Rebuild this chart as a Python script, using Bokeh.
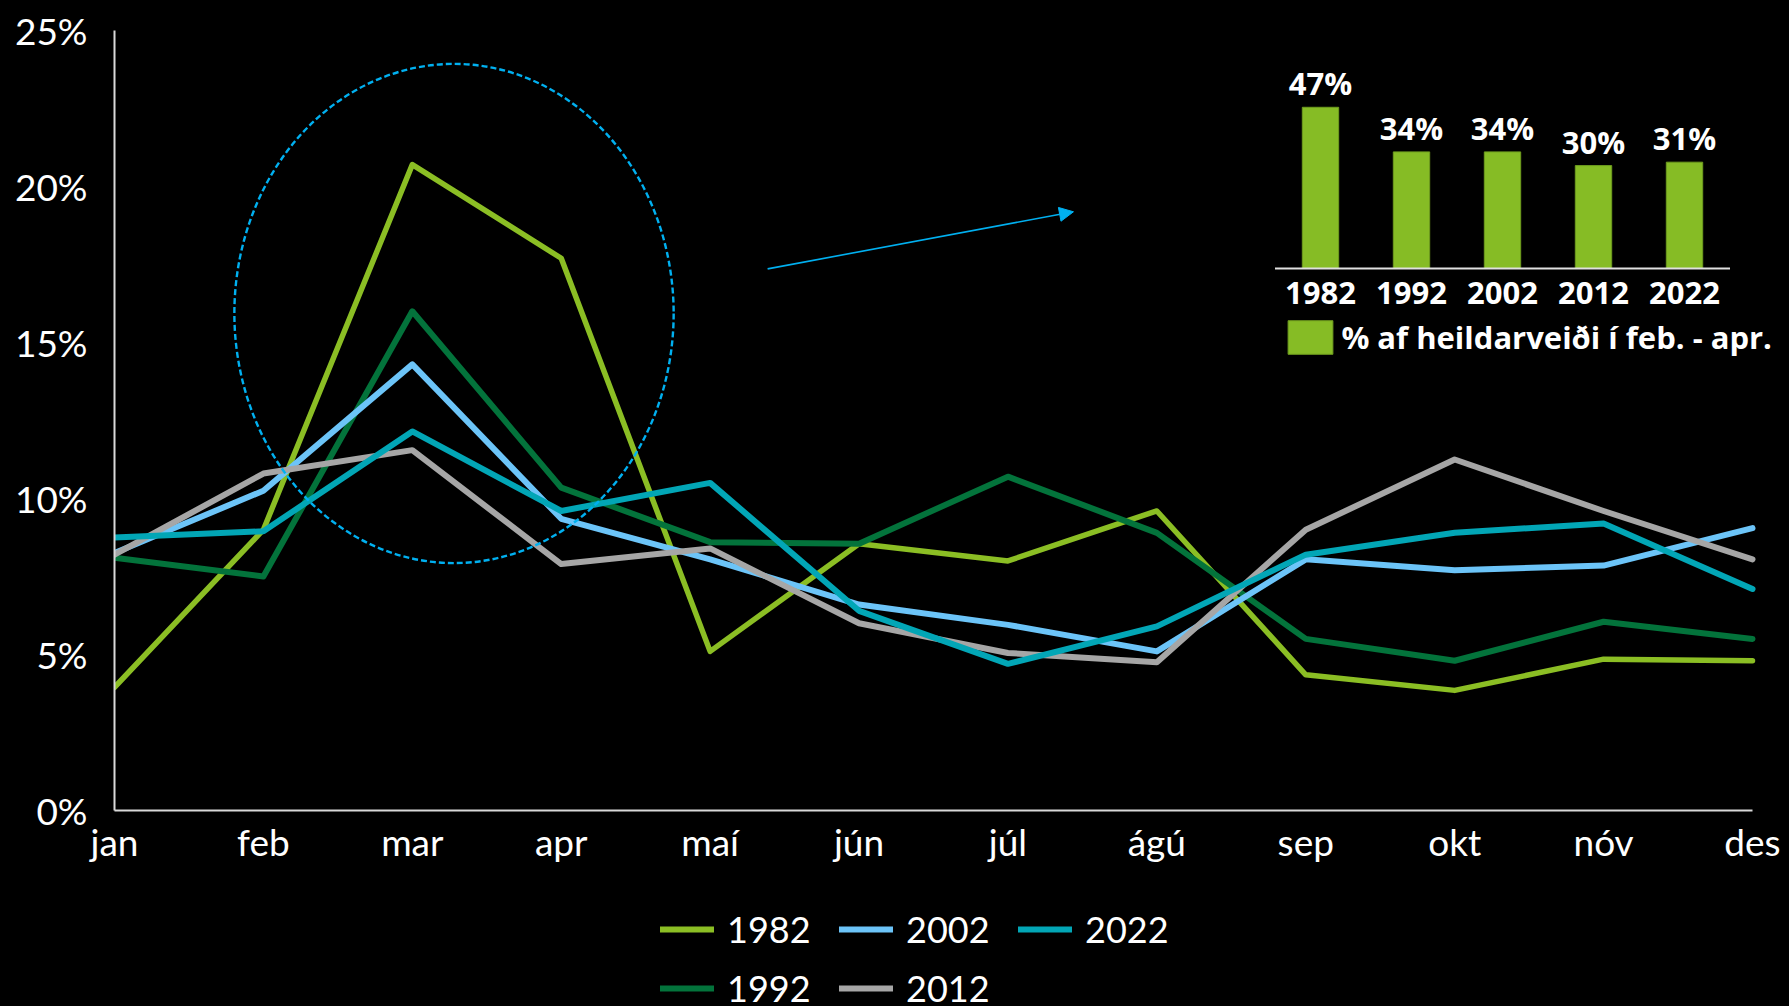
from bokeh.plotting import figure
from bokeh.layouts import column
from bokeh.models import (Range1d, FixedTicker, PrintfTickFormatter, Legend, LegendItem,
                          Arrow, NormalHead)
from bokeh.core.properties import value
from bokeh.embed import file_html
from bokeh.resources import INLINE

# ---------------- data ----------------
months = ["jan", "feb", "mar", "apr", "maí", "jún", "júl", "ágú", "sep", "okt", "nóv", "des"]
series_years = ["1982", "1992", "2002", "2012", "2022"]
share_1982 = [3.95, 9.0, 20.7, 17.7, 5.1, 8.55, 8.0, 9.6, 4.35, 3.85, 4.85, 4.8]
share_1992 = [8.1, 7.5, 16.0, 10.35, 8.6, 8.55, 10.7, 8.9, 5.5, 4.8, 6.05, 5.5]
share_2002 = [8.25, 10.25, 14.3, 9.35, 8.05, 6.6, 5.95, 5.1, 8.05, 7.7, 7.85, 9.05]
share_2012 = [8.2, 10.8, 11.55, 7.9, 8.4, 6.0, 5.05, 4.75, 9.0, 11.25, 9.6, 8.05]
share_2022 = [8.75, 8.95, 12.15, 9.6, 10.5, 6.4, 4.7, 5.9, 8.2, 8.9, 9.2, 7.1]
y_ticks = [0, 5, 10, 15, 20, 25]

# inset: share of annual catch taken Feb-Apr
febapr_share = [47, 34, 34, 30, 31]
febapr_labels = ["47%", "34%", "34%", "30%", "31%"]
inset_legend_label = "% af heildarveiði í feb. - apr."

# ---------------- styles ----------------
colors = {"1982": "#8BBE24", "1992": "#03733B", "2002": "#6CC4F8",
          "2012": "#A6A6A6", "2022": "#02A6B6"}
widths = {"1982": 5.5, "1992": 6, "2002": 6, "2012": 6, "2022": 6}
inset_font = value("Open Sans")
accent = "#00B0F0"

series = dict(zip(series_years, [share_1982, share_1992, share_2002, share_2012, share_2022]))
month_idx = list(range(len(months)))
year_idx = list(range(len(series_years)))

# frame spans x 114..1789 px; month step is 148.91 px so "des" sits at 1752 px
p = figure(width=1789, height=896, title=None,
           x_range=Range1d(0, 11.2485), y_range=Range1d(0, 25),
           output_backend="svg", toolbar_location=None,
           min_border_left=114, min_border_right=0, min_border_top=30, min_border_bottom=86,
           background_fill_color="black", border_fill_color="black", outline_line_color=None)
p.grid.visible = False

for ax in (p.xaxis[0], p.yaxis[0]):
    ax.axis_line_color = "#d9d9d9"
    ax.axis_line_width = 2
    ax.major_tick_line_color = None
    ax.minor_tick_line_color = None
    ax.major_tick_out = 0
    ax.major_tick_in = 0
    ax.minor_tick_out = 0
    ax.minor_tick_in = 0
    ax.major_label_text_color = "white"
    ax.major_label_text_font = "Lato"
    ax.major_label_text_font_size = "37px"

p.xaxis.ticker = FixedTicker(ticks=month_idx)
p.xaxis.bounds = (0, len(months) - 1)
p.xaxis.major_label_overrides = {i: m for i, m in enumerate(months)}
p.xaxis.major_label_standoff = 8
p.yaxis.ticker = FixedTicker(ticks=y_ticks)
p.yaxis.formatter = PrintfTickFormatter(format="%d%%")
p.yaxis.major_label_standoff = 27

renderers = {}
for yr in series_years:
    renderers[yr] = p.line(x=month_idx, y=series[yr], line_color=colors[yr],
                           line_width=widths[yr], line_join="round", line_cap="round")

# highlight circle around the Feb-Apr peak and arrow to inset
p.ellipse(x=[2.28], y=[15.93], width=[2.95], height=[16.0], fill_color=None,
          line_color=accent, line_width=2.4, line_dash="6 3")
p.add_layout(Arrow(end=NormalHead(size=14, fill_color=accent, line_color=accent),
                   x_start=4.386, y_start=17.36, x_end=6.44, y_end=19.19,
                   line_color=accent, line_width=1.6))

# ---------------- inset bar chart ----------------
p.extra_x_ranges = {"ix": Range1d(-13.2527, 5.1538)}
p.extra_y_ranges = {"iy": Range1d(-158.02, 69.39)}
bars = p.vbar(x=year_idx, top=febapr_share, bottom=0, width=0.4,
              x_range_name="ix", y_range_name="iy",
              fill_color="#86BC25", line_color="#6E9C1E", line_width=1)
p.segment(x0=[-0.5], y0=[0], x1=[len(series_years) - 0.5], y1=[0],
          x_range_name="ix", y_range_name="iy", line_color="#e0e0e0", line_width=2)
p.text(x=year_idx, y=febapr_share, text=febapr_labels, x_range_name="ix", y_range_name="iy",
       text_align="center", text_baseline="alphabetic", y_offset=-24,
       text_color="white", text_font=inset_font, text_font_size="31px", text_font_style="bold")
p.text(x=year_idx, y=[0] * len(series_years), text=series_years,
       x_range_name="ix", y_range_name="iy",
       text_align="center", text_baseline="alphabetic", y_offset=24,
       text_color="white", text_font=inset_font, text_font_size="31px", text_font_style="bold")

inset_legend = Legend(items=[LegendItem(label=inset_legend_label, renderers=[bars])],
                      location=(1168.4, 452.1), glyph_width=56, glyph_height=42,
                      label_standoff=3, label_text_font="Open Sans", label_text_font_style="bold",
                      label_text_font_size="31px", label_text_color="white",
                      border_line_alpha=0, background_fill_alpha=0, padding=0, margin=0)
p.add_layout(inset_legend)

# ---------------- series legend (strip below the chart) ----------------
# the strip's y-range lies below every value, so its lines only serve as legend swatches
lg = figure(width=1789, height=110, title=None, x_range=p.x_range, y_range=Range1d(-1, 0),
            output_backend="svg", toolbar_location=None,
            x_axis_location=None, y_axis_location=None,
            min_border_left=114, min_border_right=0, min_border_top=0, min_border_bottom=0,
            background_fill_color="black", border_fill_color="black", outline_line_color=None)
lg.grid.visible = False
swatches = {yr: lg.line(x=month_idx, y=series[yr], line_color=colors[yr], line_width=6,
                        line_cap="round")
            for yr in series_years}
main_legend = Legend(items=[LegendItem(label=yr, renderers=[swatches[yr]]) for yr in series_years],
                     location=(546, -4), orientation="vertical", nrows=2,
                     glyph_width=54, glyph_height=44, label_height=44, label_width=97,
                     label_standoff=13, spacing=15, padding=0, margin=0,
                     label_text_font="Lato", label_text_font_size="36px", label_text_color="white",
                     border_line_alpha=0, background_fill_alpha=0)
lg.add_layout(main_legend)

layout = column(p, lg, spacing=0)
html = file_html(layout, INLINE, title="Veiði eftir mánuðum")
html = html.replace("<head>", "<head><style>html,body{background:#000;}</style>", 1)
open("out.html", "w").write(html)
